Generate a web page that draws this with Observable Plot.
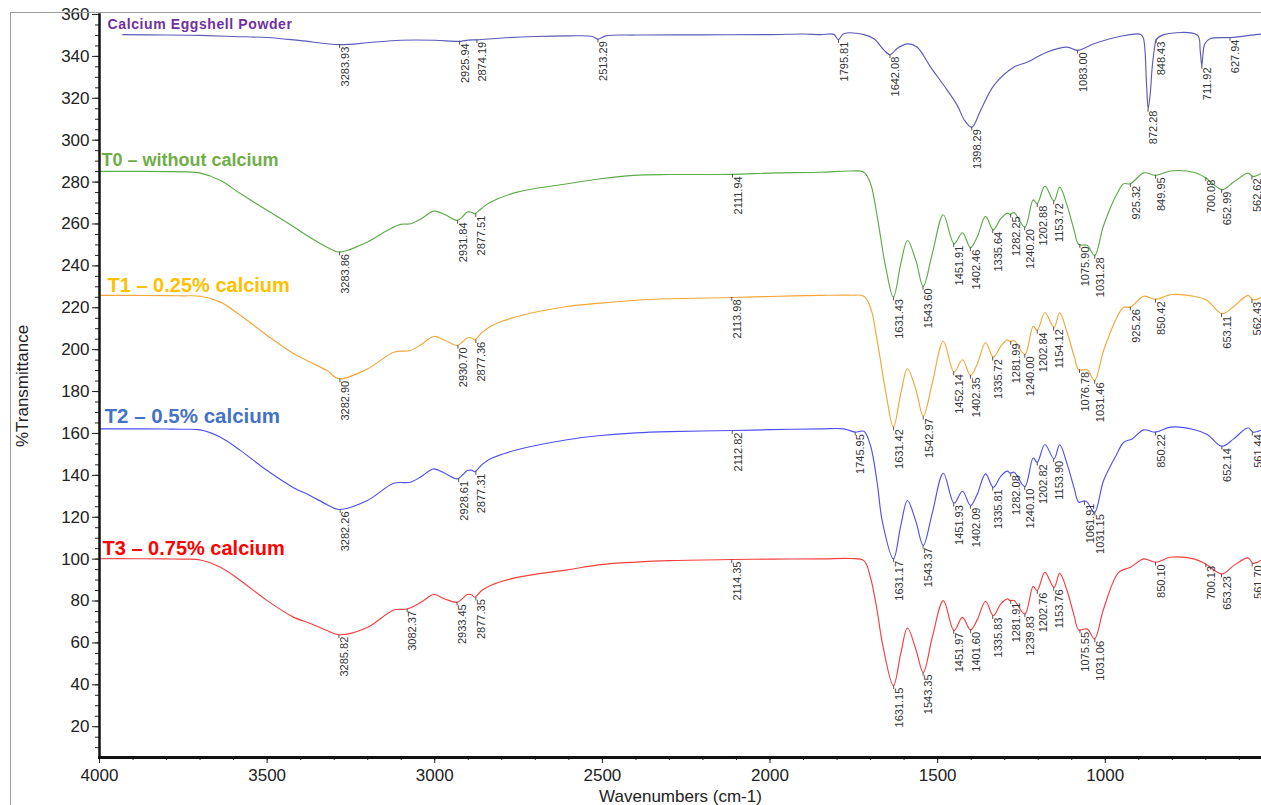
<!DOCTYPE html>
<html><head><meta charset="utf-8">
<script src="https://cdn.jsdelivr.net/npm/d3@7"></script>
<script src="https://cdn.jsdelivr.net/npm/@observablehq/plot@0.6"></script>
<style>
html,body{margin:0;padding:0;background:#fff;}
#wrap{position:relative;width:1261px;height:805px;overflow:hidden;}
#frame{position:absolute;left:10px;top:12px;width:1260px;height:800px;border-left:1.5px solid #9a9a9a;border-top:1.5px solid #9a9a9a;pointer-events:none;}
</style></head><body>
<div id="wrap"><div id="chart"></div><div id="frame"></div></div>
<script>
// ---- axis ticks ----
const xTicks = [4000, 3500, 3000, 2500, 2000, 1500, 1000];
const yTicks = [20, 40, 60, 80, 100, 120, 140, 160, 180, 200, 220, 240, 260, 280, 300, 320, 340, 360];

// ---- series labels ----
const seriesNames = ["Calcium Eggshell Powder", "T0 – without calcium", "T1 – 0.25% calcium", "T2 – 0.5% calcium", "T3 – 0.75% calcium"];
const seriesLabelX = [3976, 3994, 3976, 3985, 3991];
const seriesLabelY = [352.9, 287.5, 227.3, 165.2, 102.2];

// ---- spectra: [wavenumber, %T] ----
const eggshell = [[3931,350.4],[3800,350.2],[3700,350],[3600,349.5],[3500,349],[3400,347.5],[3284,345.6],[3200,346.5],[3102,347.7],[3000,347.7],[2926,347.2],[2900,347.8],[2874,347.9],[2800,348.8],[2700,349.5],[2600,349.8],[2530,349.5],[2513,348.2],[2490,349.8],[2400,350.2],[2200,350.3],[2000,350.4],[1900,350.7],[1849,350.4],[1810,350.5],[1796,348.0],[1780,350.8],[1720,350.4],[1690,348.4],[1660,343],[1642,340.8],[1620,343.9],[1590,346],[1561,344.4],[1521,334.9],[1471,323.8],[1441,316.5],[1420,309.5],[1398,306.2],[1372,314.2],[1332,326.2],[1272,334.9],[1232,337.3],[1173,342.1],[1113,344.4],[1083,342.9],[1034,346],[954,349.6],[894,350.5],[886,348.5],[877,326.9],[872,315.1],[866,322],[860,334.9],[852,345.2],[848,348],[825,350.4],[725,350.1],[717,342.9],[712,335.7],[703,346],[686,348.5],[626,349],[551,350.4],[537,350.6]];

const t0 = [[4000,285.1],[3900,285.1],[3800,285.0],[3750,284.9],[3699,284.3],[3639,280.8],[3579,274.4],[3500,266.5],[3420,258.6],[3371,253.5],[3321,248.9],[3286,246.6],[3201,251.4],[3142,256.9],[3102,259.8],[3072,260.1],[3040,262.5],[3003,266.1],[2970,264.5],[2933,261.7],[2915,263.8],[2903,265.7],[2890,265.6],[2881,264.9],[2860,267.5],[2834,270.4],[2754,275.2],[2605,279.2],[2505,281.6],[2407,283.2],[2300,283.6],[2112,283.7],[2000,284.3],[1849,284.7],[1760,285.3],[1720,284.7],[1700,279.2],[1680,263.3],[1655,239.4],[1632,225.1],[1610,241],[1590,252.1],[1565,242.6],[1543,230.2],[1516,245.8],[1483,264.4],[1451,250.6],[1426,255.8],[1402,248.7],[1382,253.8],[1357,263.6],[1334,257.2],[1312,262.5],[1292,265.2],[1284,264.6],[1272,265.4],[1240,258.5],[1215,271.5],[1203,269.7],[1180,278.1],[1153,270.9],[1136,277.6],[1114,268.9],[1093,257],[1079,250.2],[1054,249.8],[1032,245],[1005,259.3],[965,274.4],[945,279.2],[925,279.2],[885,284.4],[850,283.2],[805,285.3],[736,284.7],[701,282.1],[652,276.4],[617,280],[574,284.3],[559,282.7],[537,284]];

const t1 = [[4000,225.9],[3900,225.9],[3800,225.8],[3750,225.7],[3699,225.5],[3639,222.7],[3579,216.3],[3500,206.8],[3420,198.0],[3371,194],[3321,190.0],[3286,186.1],[3201,190.8],[3122,198.8],[3072,199.6],[3040,202.5],[3003,206.3],[2970,204.5],[2933,202.0],[2915,204],[2903,205.7],[2890,205.6],[2881,204.7],[2860,208],[2834,211.1],[2754,215.8],[2605,220.6],[2505,222.2],[2400,223.6],[2300,224.3],[2114,224.9],[2000,225.4],[1849,225.9],[1760,226.0],[1720,225.5],[1700,220],[1680,204],[1655,180],[1632,163.0],[1610,179],[1590,190.9],[1565,181],[1543,168.2],[1516,184],[1483,204.0],[1451,189.3],[1426,195.2],[1402,187.7],[1382,193],[1357,203.3],[1334,196.4],[1312,201.5],[1292,204.7],[1284,203.9],[1272,204.4],[1240,197.7],[1215,211.1],[1203,209.2],[1180,217.6],[1153,210.7],[1136,217.6],[1114,208.3],[1093,197],[1079,190.4],[1054,190.4],[1032,185.3],[1005,199.6],[965,215.5],[945,220.3],[925,220.3],[885,225.5],[850,224],[805,226.2],[736,225.5],[696,223.5],[652,217.1],[617,220.6],[574,225.9],[559,223.8],[537,224.8]];

const t2 = [[4000,162.2],[3900,162.2],[3800,162.1],[3750,162.0],[3699,161.7],[3639,158.2],[3579,151.8],[3500,142.3],[3420,134.0],[3371,130.3],[3321,126.0],[3286,123.7],[3201,128],[3122,136.2],[3072,136.7],[3040,139.5],[3003,143.1],[2970,141],[2933,138.3],[2915,140.5],[2903,142.3],[2890,142.5],[2881,141.8],[2860,145],[2834,147.9],[2754,152.2],[2605,157],[2505,159],[2400,160.3],[2300,160.9],[2113,161.4],[2000,161.8],[1849,162.2],[1780,162.2],[1746,160.6],[1720,161.0],[1700,154],[1680,136],[1665,118],[1632,100.1],[1610,116],[1590,128.0],[1565,118],[1543,106.5],[1516,122],[1483,141.0],[1451,126.7],[1426,132.4],[1402,125.6],[1382,131],[1357,140.7],[1334,134.3],[1312,139.5],[1292,142],[1284,141],[1272,141.5],[1240,134.6],[1215,148.3],[1203,146.2],[1180,154.7],[1153,147.9],[1136,154.6],[1114,145.5],[1093,134],[1079,127.2],[1062,127.8],[1054,127.2],[1032,122.4],[1005,137.5],[965,150.3],[945,155.8],[920,157.4],[885,161.7],[850,160.6],[805,163],[736,161.9],[696,159.5],[652,153.9],[617,157.4],[574,162.7],[559,160.6],[537,161.4]];

const t3 = [[4000,100.2],[3900,100.2],[3800,100.1],[3750,100.0],[3699,99.6],[3639,96.1],[3579,89.7],[3500,80.2],[3420,72.2],[3371,69.3],[3321,65.9],[3286,63.9],[3201,67.4],[3122,75.7],[3082,76.2],[3040,79.5],[3003,83.1],[2970,81],[2933,79.4],[2915,81.5],[2903,83.1],[2890,83],[2881,81.8],[2860,85],[2834,87.4],[2754,91.3],[2605,94.9],[2505,97.4],[2400,98.6],[2300,99.3],[2114,99.8],[2000,100.0],[1849,100.1],[1760,100.3],[1720,99.3],[1700,91],[1680,75],[1665,60],[1632,39.6],[1610,55],[1590,67.1],[1565,57],[1543,45.9],[1516,62.7],[1483,80.2],[1451,65.9],[1426,72.2],[1402,66.2],[1382,71],[1357,79.9],[1334,73],[1312,78.5],[1292,81.0],[1284,80.2],[1272,80.2],[1240,73.8],[1215,87.0],[1203,85],[1180,93.7],[1153,86.5],[1136,93.2],[1114,85],[1093,73],[1079,66.2],[1054,66.7],[1032,61.9],[1005,76.2],[960,93.7],[925,96.1],[885,100.1],[850,98.5],[805,100.9],[736,100.1],[701,97.7],[652,92.9],[617,96.9],[574,100.6],[559,98.0],[537,99.3]];

// ---- labelled peaks: [wavenumber, %T] ----
const eggPeaks = [[3283.93,345.6],[2925.94,347.2],[2874.19,347.9],[2513.29,348.2],[1795.81,348.0],[1642.08,340.8],[1398.29,306.2],[1083.00,342.9],[872.28,315.1],[848.43,348],[711.92,335.7],[627.94,349]];
const t0Peaks = [[3283.86,246.6],[2931.84,261.7],[2877.51,264.9],[2111.94,283.7],[1631.43,225.1],[1543.60,230.2],[1451.91,250.6],[1402.46,248.7],[1335.64,257.2],[1282.25,264.6],[1240.20,258.5],[1202.88,269.7],[1153.72,270.9],[1075.90,250.2],[1031.28,245],[925.32,279.2],[849.95,283.2],[700.08,282.1],[652.99,276.4],[562.62,282.7]];
const t1Peaks = [[3282.90,186.1],[2930.70,202.0],[2877.36,204.7],[2113.98,224.9],[1631.42,163.0],[1542.97,168.2],[1452.14,189.3],[1402.35,187.7],[1335.72,196.4],[1281.99,203.9],[1240.00,197.7],[1202.84,209.2],[1154.12,210.7],[1076.78,190.4],[1031.46,185.3],[925.26,220.3],[850.42,224],[653.11,217.1],[562.43,223.8]];
const t2Peaks = [[3282.26,123.7],[2928.61,138.3],[2877.31,141.8],[2112.82,161.4],[1745.95,160.6],[1631.17,100.1],[1543.37,106.5],[1451.93,126.7],[1402.09,125.6],[1335.81,134.3],[1282.08,141],[1240.10,134.6],[1202.82,146.2],[1153.90,147.9],[1061.91,127.5],[1031.15,122.4],[850.22,160.6],[652.14,153.9],[561.44,160.6]];
const t3Peaks = [[3285.82,63.9],[3082.37,76.2],[2933.45,79.4],[2877.35,81.8],[2114.35,99.8],[1631.15,39.6],[1543.35,45.9],[1451.97,65.9],[1401.60,66.2],[1335.83,73],[1281.91,80.2],[1239.83,73.8],[1202.76,85],[1153.76,86.5],[1075.55,66.2],[1031.06,61.9],[850.10,98.5],[700.13,97.7],[653.23,92.9],[561.70,98.0]];

const lineColors = ["#5b5bb8", "#5cab48", "#f3a63a", "#4f4ff0", "#f43f3f"];
const labelColors = ["#7030a0", "#70ad47", "#ffc000", "#4472c4", "#ff0000"];
const labelSizes = [14, 18, 20, 20.5, 20];

const spectra = [eggshell, t0, t1, t2, t3];
const peakSets = [eggPeaks, t0Peaks, t1Peaks, t2Peaks, t3Peaks];

const lineMarks = spectra.map((s, i) => Plot.line(s, {x: d => d[0], y: d => d[1], stroke: lineColors[i], strokeWidth: 1.15, curve: "catmull-rom"}));
const peakMarks = peakSets.flatMap(p => [
  Plot.ruleX(p, {x: d => d[0], y1: d => d[1], y2: d => d[1] - 1.8, stroke: "#555", strokeWidth: 1}),
  Plot.text(p, {x: d => d[0], y: d => d[1], text: d => d[0].toFixed(2), rotate: -90, textAnchor: "end", lineAnchor: "top", dx: 1.5, dy: 2, fontSize: 11, fill: "#333"})
]);
const nameMarks = seriesNames.map((n, i) => Plot.text([n], {x: () => seriesLabelX[i], y: () => seriesLabelY[i], text: d => d, textAnchor: "start", lineAnchor: "bottom", fill: labelColors[i], fontWeight: "bold", fontSize: labelSizes[i]}));

const chart = Plot.plot({
  width: 1261, height: 805,
  marginLeft: 99, marginRight: 0, marginTop: 14, marginBottom: 48,
  style: {fontFamily: "Liberation Sans, Arial, sans-serif", background: "#fff", color: "#222", overflow: "hidden"},
  x: {domain: [4000, 534]},
  y: {domain: [5.3, 360]},
  marks: [
    Plot.axisY({ticks: d3.range(10, 361, 5), tickSize: 4, text: null, label: null}),
    Plot.axisY({ticks: yTicks, tickSize: 7, tickPadding: 3, fontSize: 17, tickFormat: d => String(d), label: "%Transmittance", labelAnchor: "center", labelArrow: "none", labelOffset: 84}),
    Plot.axisX({ticks: d3.range(4000, 599, -100), tickSize: 3, text: null, label: null}),
    Plot.axisX({ticks: xTicks, tickSize: 6, tickPadding: 5, fontSize: 17, tickFormat: d => String(d), label: "Wavenumbers (cm-1)", labelAnchor: "center", labelArrow: "none", labelOffset: 44}),
    ...lineMarks,
    ...peakMarks,
    ...nameMarks,
    Plot.frame({anchor: "left", strokeWidth: 2.5, stroke: "#111"}),
    Plot.frame({anchor: "bottom", strokeWidth: 3, stroke: "#111"})
  ]
});
d3.select(chart).selectAll("text").filter(function () { return this.textContent === seriesNames[0]; }).style("letter-spacing", "0.6px");
document.getElementById("chart").appendChild(chart);
</script>
</body></html>
